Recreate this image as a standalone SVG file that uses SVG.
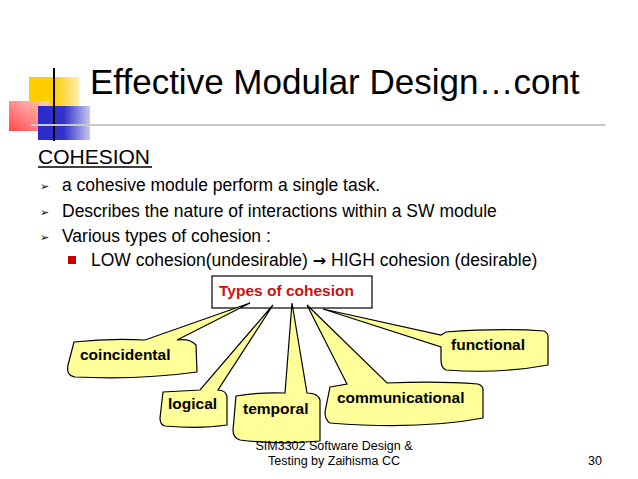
<svg xmlns="http://www.w3.org/2000/svg" width="638" height="479" viewBox="0 0 638 479">
<defs>
<linearGradient id="gy" x1="0" x2="1"><stop offset="0" stop-color="#ffcc00"/><stop offset="0.5" stop-color="#ffcc00"/><stop offset="1" stop-color="#fff0b0"/></linearGradient>
<linearGradient id="gr" x1="0" x2="1" y1="1" y2="0"><stop offset="0" stop-color="#ff3333"/><stop offset="1" stop-color="#ffd0d0"/></linearGradient>
<linearGradient id="gb" x1="0" x2="1"><stop offset="0" stop-color="#2a2acc"/><stop offset="0.5" stop-color="#3333cc"/><stop offset="1" stop-color="#c8c8f0"/></linearGradient>
</defs>
<style>
.t{font-family:"Liberation Sans",Arial,sans-serif;fill:#000}
.c{fill:#ffff99;stroke:#000;stroke-width:1.2}
.cl{font-family:"Liberation Sans",Arial,sans-serif;font-weight:bold;font-size:15.5px;fill:#000}
</style>
<rect width="638" height="479" fill="#fff"/>
<g id="logo">
<rect x="29" y="77" width="50" height="42" fill="url(#gy)"/>
<rect x="9" y="101" width="40" height="30" fill="url(#gr)" opacity="0.9"/>
<rect x="38" y="106" width="52" height="34" fill="url(#gb)"/>
<line x1="54" y1="68" x2="54" y2="141" stroke="#000" stroke-width="2"/>
<line x1="31" y1="125" x2="605" y2="125" stroke="#c8c8c8" stroke-width="2"/>
</g>
<text class="t" x="90" y="94" font-size="35">Effective Modular Design…cont</text>
<text class="t" x="38" y="164" font-size="21">COHESION</text>
<line x1="38" y1="167" x2="152" y2="167" stroke="#000" stroke-width="1.3"/>
<g class="t" font-size="17.5">
<text x="40" y="190" font-size="11">➢</text><text x="62" y="191">a cohesive module perform a single task.</text>
<text x="40" y="216" font-size="11">➢</text><text x="62" y="217">Describes the nature of interactions within a SW module</text>
<text x="40" y="241" font-size="11">➢</text><text x="62" y="242">Various types of cohesion :</text>
<rect x="68" y="256" width="8" height="8" fill="#cc0000"/>
<text x="91" y="266">LOW cohesion(undesirable) <tspan font-family="DejaVu Sans" font-weight="bold" font-size="16">→</tspan> HIGH cohesion (desirable)</text>
</g>
<g id="types"><rect x="212" y="276" width="160" height="32" fill="#fff" stroke="#000" stroke-width="1.2"/>
<text x="219" y="296" font-family="Liberation Sans,Arial,sans-serif" font-weight="bold" font-size="15.5" fill="#cc1111">Types of cohesion</text></g>
<g id="connectors">
<g id="coincidental"><path class="c" d="M74,342 Q110,338 145,340 L250,303 L177,340 Q190,338 196,345 L197,372 Q140,380 75,377 Q66,376 68,365 Z"/><text class="cl" x="80" y="360">coincidental</text></g>
<g id="logical"><path class="c" d="M163,392 L200,390 L273,305 L218,390 Q226,390 227,397 L227,425 Q200,429 165,426 Q160,425 160,418 Z"/><text class="cl" x="168" y="409">logical</text></g>
<g id="temporal"><path class="c" d="M236,396 Q260,392 285,393 L292,303 L307,393 Q318,393 320,400 L320,441 Q280,445 240,440 Q233,438 233,430 Z"/><text class="cl" x="243" y="414">temporal</text></g>
<g id="communicational"><path class="c" d="M330,387 L347,384 L307,305 L387,383 Q440,381 478,384 Q484,386 483,392 L483,418 Q420,430 330,423 Q325,420 325,412 Z"/><text class="cl" x="337" y="403">communicational</text></g>
<g id="functional"><path class="c" d="M446,332 Q500,328 544,331 Q549,333 548,340 L548,365 Q500,374 446,370 Q441,368 441,360 L441,347 L323,309 L441,335 Z"/><text class="cl" x="451" y="350">functional</text></g>
</g>
<text class="t" x="334" y="450" font-size="12.5" text-anchor="middle">SIM3302 Software Design &amp;</text>
<text class="t" x="334" y="465" font-size="12.5" text-anchor="middle">Testing by Zaihisma CC</text>
<text class="t" x="588" y="465" font-size="12.5">30</text>
</svg>
